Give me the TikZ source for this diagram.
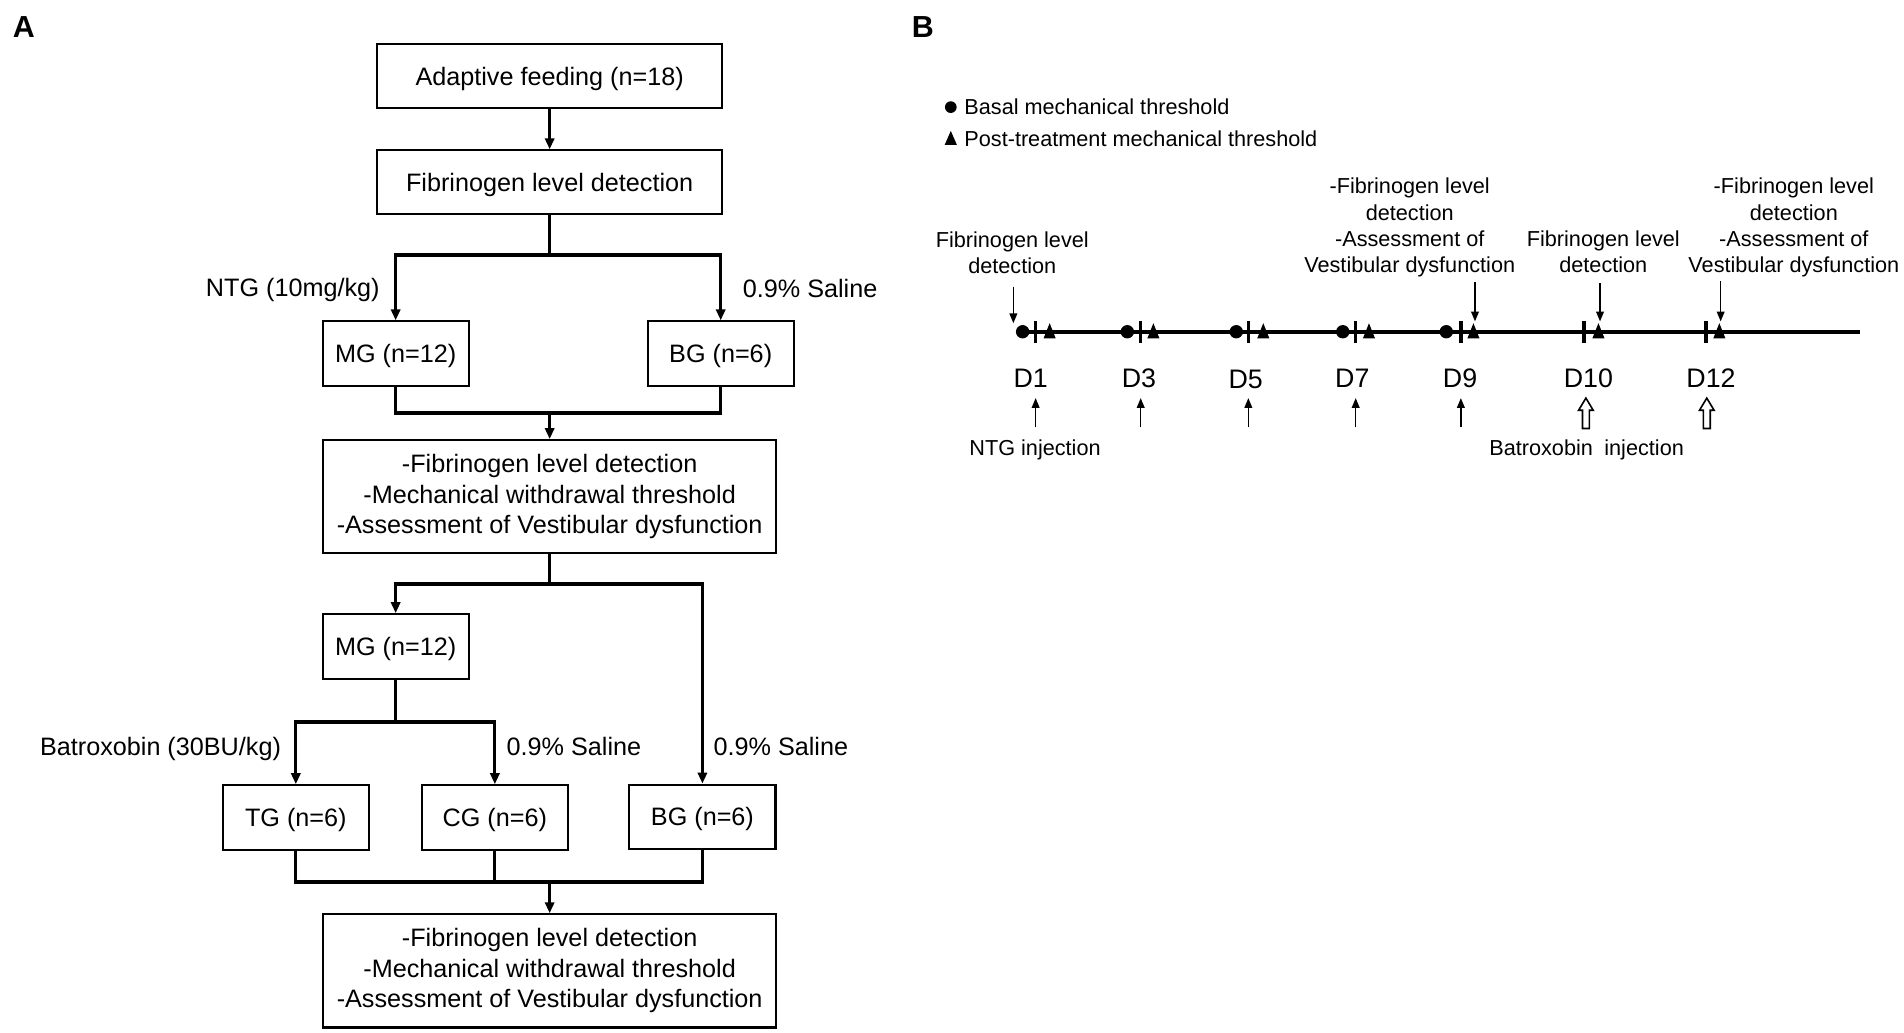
\documentclass[tikz,border=0pt]{standalone}
\usepackage{fontspec}
\setmainfont{Liberation Sans}
\usetikzlibrary{arrows.meta}
\newcommand\fsA{\fontsize{20.7}{25}\selectfont}
\newcommand\fsB{\fontsize{17.8}{21.7}\selectfont}
\newcommand\fsD{\fontsize{22}{26}\selectfont}
\begin{document}
\begin{tikzpicture}[x=1pt,y=-1pt,
  box/.style={draw, line width=1.7pt, inner sep=0pt, align=center, font=\fsA,
    execute at begin node={\rule{0pt}{19.2pt}}},
  gbox/.style={box, minimum width=120pt, minimum height=53pt},
  wbox/.style={box, minimum width=372pt, minimum height=93pt},
  tbox/.style={box, minimum width=283pt, minimum height=52pt},
  conn/.style={line width=2.5pt},
  bar/.style={line width=3.2pt, shorten <=-1.25pt, shorten >=-1.25pt},
  arr/.style={conn, -{Triangle[length=9pt,width=7.5pt]}},
  lbl/.style={inner sep=0pt, font=\fsA},
  tl/.style={inner sep=0pt, font=\fsB, align=center},
  dl/.style={inner sep=0pt, font=\fsD},
  thinarr/.style={line width=1.25pt, -{Triangle[length=8pt,width=6.3pt]}},
  panel/.style={inner sep=0pt, font=\fontsize{25}{30}\selectfont\bfseries}]
\useasboundingbox (0,0) rectangle (1564,848.5);

% ---------------- Panel A ----------------
\node[panel] (pA) at (19.6,22.6) {A};
\node[tbox] (b1) at (451.5,62.5) {Adaptive feeding (n=18)};
\node[tbox] (b2) at (451.5,149.5) {Fibrinogen level detection};
\node[gbox] (mg1) at (325,290.5) {MG (n=12)};
\node[gbox] (bg1) at (592,290.5) {BG (n=6)};
\node[wbox] (b3) at (451.5,408) {-Fibrinogen level detection\\-Mechanical withdrawal threshold\\-Assessment of Vestibular dysfunction};
\node[gbox] (mg2) at (325,531) {MG (n=12)};
\node[gbox] (tg) at (243,671.5) {TG (n=6)};
\node[gbox] (cg) at (406.5,671.5) {CG (n=6)};
\node[gbox] (bg2) at (577,671) {BG (n=6)};
\node[wbox] (b4) at (451.5,797.5) {-Fibrinogen level detection\\-Mechanical withdrawal threshold\\-Assessment of Vestibular dysfunction};

\coordinate (j1) at (451.5,209.5);
\coordinate (m1) at (451.5,339);
\coordinate (j2) at (451.5,479.5);
\coordinate (j3) at (325,593);
\coordinate (m3) at (451.5,724.5);

\draw[arr] (b1) -- (b2);
\draw[conn] (b2) -- (j1);
\draw[arr] (j1) -| (mg1);
\draw[arr] (j1) -| (bg1);
\draw[bar] (mg1.north |- j1) -- (bg1.north |- j1);
\draw[conn] (mg1) |- (m1);
\draw[conn] (bg1) |- (m1);
\draw[bar] (mg1.south |- m1) -- (bg1.south |- m1);
\draw[arr] (m1) -- (b3);
\draw[conn] (b3) -- (j2);
\draw[arr] (j2) -| (mg2);
\draw[arr] (j2) -| (bg2);
\draw[bar] (mg2.north |- j2) -- (bg2.north |- j2);
\draw[conn] (mg2) -- (j3);
\draw[arr] (j3) -| (tg);
\draw[arr] (j3) -| (cg);
\draw[bar] (tg.north |- j3) -- (cg.north |- j3);
\draw[conn] (tg) |- (m3);
\draw[conn] (cg) -- (cg.south |- m3);
\draw[conn] (bg2) |- (m3);
\draw[bar] (tg.south |- m3) -- (bg2.south |- m3);
\draw[arr] (m3) -- (b4);

\node[lbl, anchor=base east] (lntg) at (312,243.5) {NTG (10mg/kg)};
\node[lbl, anchor=base west] (ls1) at (610,244.5) {0.9\% Saline};
\node[lbl, anchor=base east] (lbat) at (231,620.5) {Batroxobin (30BU/kg)};
\node[lbl, anchor=base west] (ls2) at (416,620.5) {0.9\% Saline};
\node[lbl, anchor=base west] (ls3) at (586,620.5) {0.9\% Saline};

% ---------------- Panel B ----------------
\node[panel] (pB) at (758,22.6) {B};

% legend
\fill (781,88) circle (4.8);
\fill (776,119) -- (786,119) -- (781,107.5) -- cycle;
\node[tl, anchor=base west] (lg1) at (792,94.4) {Basal mechanical threshold};
\node[tl, anchor=base west] (lg2) at (792,120.4) {Post-treatment mechanical threshold};

% timeline
\coordinate (tlS) at (836,272.5);
\coordinate (tlE) at (1528,272.5);
\draw[line width=3pt] (tlS) -- (tlE);
\foreach \x in {840,926,1015.5,1103,1188}
  \fill (\x,272.5) circle (5.5);
\foreach \x in {850.7,937,1025.4,1113.6,1200,1301.2,1401.4}
  \draw[line width=2.7pt] (\x,264) -- (\x,282);
\foreach \x in {862.2,947.4,1037.7,1124.5,1210.3,1313,1412.3}
  \fill (\x-5,278) -- (\x+5,278) -- (\x,265.5) -- cycle;

% day labels
\node[dl] (d1) at (846.6,311) {D1};
\node[dl] (d3) at (935.6,311) {D3};
\node[dl] (d5) at (1023.2,312) {D5};
\node[dl] (d7) at (1110.8,311) {D7};
\node[dl] (d9) at (1199.3,311) {D9};
\node[dl] (d10) at (1304.7,311) {D10};
\node[dl] (d12) at (1405.5,311) {D12};

% NTG injection arrows
\foreach \x in {850.7,937,1025.4,1113.6,1200}
  \draw[thinarr] (\x,351) -- (\x,327);
% Batroxobin hollow arrows
\foreach \x in {1302.7,1402}
  \draw[line width=1.3pt, fill=white, line join=miter]
    (\x,327) -- (\x+6,337) -- (\x+2.8,337) -- (\x+2.8,352) -- (\x-2.8,352) -- (\x-2.8,337) -- (\x-6,337) -- cycle;

\node[tl, anchor=base] (ntg) at (850.2,374.1) {NTG injection};
\node[tl, anchor=base] (btx) at (1303.3,374.1) {Batroxobin\hspace{0.25em} injection};

% top labels
\node[tl, anchor=south] (L1) at (831.5,225.4) {Fibrinogen level\\detection};
\node[tl, anchor=south] (L9) at (1158,228.1) {-Fibrinogen level\\detection\\-Assessment of\\Vestibular dysfunction};
\node[tl, anchor=south] (L10) at (1317,224.4) {Fibrinogen level\\detection};
\node[tl, anchor=south] (L12) at (1473.5,228.1) {-Fibrinogen level\\detection\\-Assessment of\\Vestibular dysfunction};

\coordinate (s1) at (832.4,235.5); \coordinate (e1) at (832.4,265.5);
\coordinate (s9) at (1211.6,232);  \coordinate (e9) at (1211.6,264);
\coordinate (s10) at (1314.3,232.7); \coordinate (e10) at (1314.3,264);
\coordinate (s12) at (1413.4,231); \coordinate (e12) at (1413.4,264);
\draw[thinarr] (s1) -- (e1);
\draw[thinarr] (s9) -- (e9);
\draw[thinarr] (s10) -- (e10);
\draw[thinarr] (s12) -- (e12);
\end{tikzpicture}
\end{document}
